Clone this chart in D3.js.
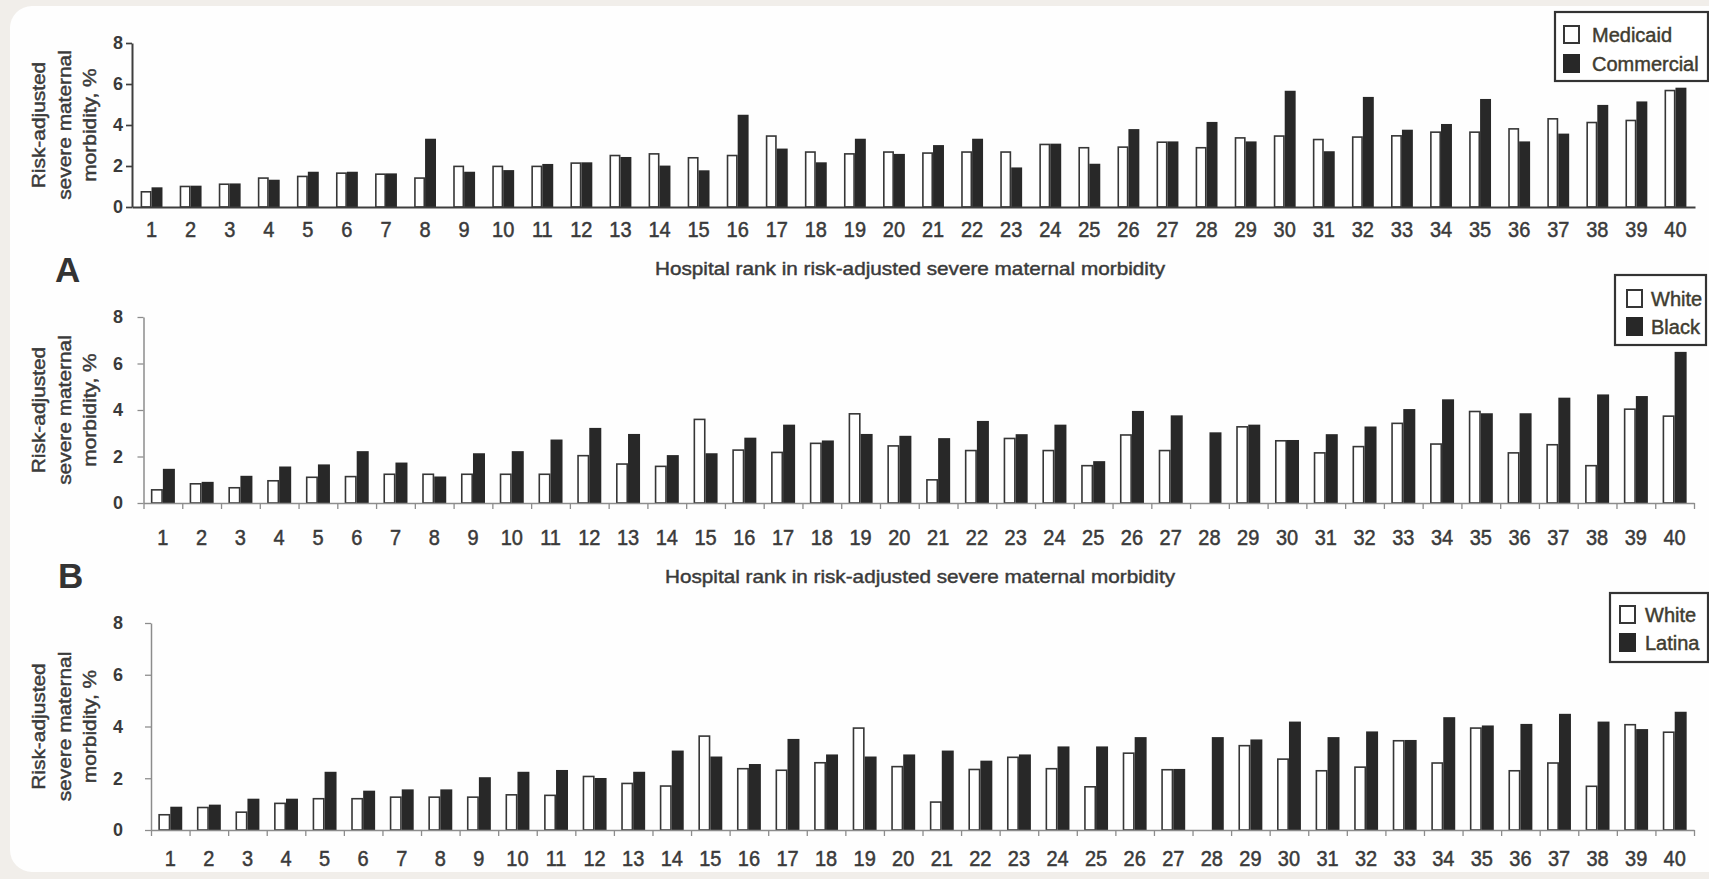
<!DOCTYPE html>
<html>
<head>
<meta charset="utf-8">
<script src="https://cdn.jsdelivr.net/npm/d3@7"></script>
<style>
  html, body { margin: 0; padding: 0; background: #f1eeea; }
  svg { display: block; }
  text { font-family: "Liberation Sans", Arial, Helvetica, sans-serif; }
  .ink { stroke: currentColor; stroke-width: 0.45px; paint-order: stroke; }
</style>
</head>
<body>
<svg id="chart" width="1709" height="879"></svg>
<script>
// Hospital ranks (x categories)
const ranks = [1,2,3,4,5,6,7,8,9,10,11,12,13,14,15,16,17,18,19,20,
               21,22,23,24,25,26,27,28,29,30,31,32,33,34,35,36,37,38,39,40];

// Panel A: payer
const medicaid   = [0.78,1.04,1.15,1.45,1.53,1.69,1.64,1.45,2.02,2.02,2.02,2.18,2.55,2.63,2.44,2.55,3.50,2.72,2.63,2.72,
                    2.67,2.72,2.72,3.09,2.93,2.96,3.20,2.93,3.41,3.50,3.33,3.45,3.51,3.69,3.69,3.85,4.34,4.16,4.26,5.72];
const commercial = [0.96,1.04,1.15,1.33,1.72,1.72,1.64,3.33,1.72,1.80,2.10,2.18,2.44,2.02,1.79,4.50,2.85,2.18,3.33,2.59,
                    3.02,3.33,1.93,3.09,2.11,3.80,3.20,4.15,3.20,5.67,2.72,5.37,3.77,4.05,5.27,3.20,3.58,4.98,5.15,5.82];

// Panel B: White vs Black
const whiteB = [0.60,0.86,0.69,0.99,1.14,1.17,1.27,1.27,1.27,1.27,1.27,2.07,1.71,1.61,3.63,2.31,2.21,2.60,3.87,2.49,
                1.03,2.29,2.81,2.29,1.64,2.96,2.29,null,3.31,2.71,2.19,2.46,3.46,2.57,3.97,2.19,2.54,1.64,4.07,3.77];
const blackB = [1.47,0.91,1.17,1.57,1.66,2.23,1.74,1.14,2.14,2.23,2.73,3.23,2.97,2.06,2.14,2.81,3.37,2.69,2.97,2.89,
                2.79,3.53,2.96,3.37,1.80,3.96,3.77,3.04,3.37,2.71,2.96,3.29,4.04,4.46,3.86,3.86,4.53,4.67,4.60,6.50];

// Panel C: White vs Latina
const whiteC  = [0.62,0.90,0.72,1.06,1.24,1.24,1.30,1.30,1.30,1.39,1.37,2.10,1.83,1.73,3.66,2.40,2.34,2.63,3.97,2.48,
                 1.11,2.37,2.84,2.40,1.70,3.00,2.36,null,3.29,2.77,2.32,2.46,3.48,2.62,3.97,2.32,2.62,1.72,4.10,3.81];
const latinaC = [0.90,0.98,1.21,1.21,2.25,1.52,1.57,1.57,2.04,2.25,2.32,2.01,2.25,3.07,2.84,2.55,3.52,2.92,2.84,2.92,
                 3.07,2.68,2.92,3.23,3.23,3.59,2.36,3.59,3.50,4.19,3.59,3.81,3.48,4.36,4.04,4.10,4.49,4.19,3.90,4.57];

const yTicks = [0, 2, 4, 6, 8];
const yLabelLines = ["Risk-adjusted", "severe maternal", "morbidity, %"];
const xTitle = "Hospital rank in risk-adjusted severe maternal morbidity";
const panelLetters = ["A", "B"];

const svg = d3.select("#chart");
const INK = "#363636";
const TEXT = "#3a3a3a";
const BAR_DARK = "#282828";

// card
svg.append("rect").attr("x", 0).attr("y", 0).attr("width", 1709).attr("height", 879).attr("fill", "#f1eeea");
svg.append("rect").attr("x", 10).attr("y", 6).attr("width", 1730).attr("height", 866)
   .attr("rx", 22).attr("fill", "#fefefe");

const panels = [
  { series: [{ name: "Medicaid", values: medicaid, light: true }, { name: "Commercial", values: commercial }],
    left: 132, right: 1695, base: 207, top: 43, pad: 0.44,
    axisColor: "#3e3e3e", axisWidth: 2, boundaryTicks: false, labelY: 229,
    title: { x: 910, y: 268 },
    legend: { x: 1555, y: 12, w: 153, h: 69, sx: 1563, sy: [25, 54], tx: 1592 } },
  { series: [{ name: "White", values: whiteB, light: true }, { name: "Black", values: blackB }],
    left: 143.5, right: 1694, base: 503, top: 317, pad: 0.38,
    axisColor: "#8c8c8c", axisWidth: 1.5, boundaryTicks: true, labelY: 537,
    title: { x: 920, y: 576 },
    legend: { x: 1615, y: 275, w: 91, h: 70, sx: 1626, sy: [289, 317], tx: 1651 } },
  { series: [{ name: "White", values: whiteC, light: true }, { name: "Latina", values: latinaC }],
    left: 151, right: 1694, base: 830, top: 623, pad: 0.38,
    axisColor: "#8c8c8c", axisWidth: 1.5, boundaryTicks: true, labelY: 858,
    title: null,
    legend: { x: 1610, y: 593, w: 98, h: 69, sx: 1619, sy: [605, 633], tx: 1645 } }
];

panels.forEach((p) => {
  const g = svg.append("g");

  const x = d3.scaleBand().domain(ranks).range([p.left, p.right])
              .paddingInner(p.pad).paddingOuter(p.pad / 2);
  const xs = d3.scaleBand().domain(p.series.map(s => s.name)).range([0, x.bandwidth()]);
  const y = d3.scaleLinear().domain([0, 8]).range([p.base, p.top]);

  // bars
  p.series.forEach(s => {
    const rows = ranks.map((r, i) => ({ r, v: s.values[i] })).filter(d => d.v != null);
    g.append("g").selectAll("rect").data(rows).join("rect")
      .attr("x", d => x(d.r) + xs(s.name) + (s.light ? 0.8 : 0))
      .attr("y", d => y(d.v) + (s.light ? 0.8 : 0))
      .attr("width", xs.bandwidth() - (s.light ? 1.6 : 0))
      .attr("height", d => p.base - y(d.v) - (s.light ? 0.8 : 0))
      .attr("fill", s.light ? "#ffffff" : BAR_DARK)
      .attr("stroke", s.light ? INK : "none")
      .attr("stroke-width", s.light ? 1.6 : 0);
  });

  // x axis with rank labels
  const xAxis = g.append("g").attr("transform", `translate(0,${p.base})`)
    .call(d3.axisBottom(x).tickSize(0).tickSizeOuter(0));
  xAxis.select(".domain").attr("stroke", p.axisColor).attr("stroke-width", p.axisWidth);
  xAxis.selectAll("text")
    .attr("class", "ink").attr("color", TEXT)
    .attr("y", p.labelY - p.base).attr("dy", "0.36em")
    .attr("font-size", 20).attr("fill", TEXT)
    .attr("transform", `translate(0,${p.labelY - p.base}) scale(1,1.08) translate(0,${-(p.labelY - p.base)})`);

  if (p.boundaryTicks) {
    const xb = d3.scaleLinear().domain([0, ranks.length]).range([p.left, p.right]);
    const bt = g.append("g").attr("transform", `translate(0,${p.base})`)
      .call(d3.axisBottom(xb).tickValues(d3.range(0, ranks.length + 1)).tickSize(6).tickFormat(""));
    bt.select(".domain").remove();
    bt.selectAll("line").attr("stroke", p.axisColor).attr("stroke-width", 1.3);
  }

  // y axis
  const yAxis = g.append("g").attr("transform", `translate(${p.left},0)`)
    .call(d3.axisLeft(y).tickValues(yTicks).tickSize(6).tickSizeOuter(0));
  yAxis.select(".domain").attr("stroke", p.axisColor).attr("stroke-width", p.axisWidth);
  yAxis.selectAll("line").attr("stroke", p.axisColor).attr("stroke-width", p.axisWidth * 0.85);
  yAxis.selectAll("text")
    .attr("x", 118 - p.left).attr("text-anchor", "middle")
    .attr("font-size", 18).attr("font-weight", "bold").attr("fill", TEXT);

  // y axis title, three rotated lines
  const cy = (p.top + p.base) / 2;
  [39, 65, 90].forEach((lx, li) => {
    g.append("text")
      .attr("class", "ink").attr("color", TEXT)
      .attr("transform", `translate(${lx},${cy}) scale(1,1.16) rotate(-90)`)
      .attr("text-anchor", "middle").attr("dy", "0.35em")
      .attr("font-size", 18).attr("fill", TEXT)
      .text(yLabelLines[li]);
  });

  // x axis title
  if (p.title) {
    g.append("text")
      .attr("class", "ink").attr("color", TEXT)
      .attr("x", p.title.x).attr("y", p.title.y).attr("dy", "0.35em")
      .attr("text-anchor", "middle").attr("font-size", 19).attr("fill", TEXT)
      .attr("textLength", 510).attr("lengthAdjust", "spacingAndGlyphs")
      .text(xTitle);
  }

  // legend
  const L = p.legend;
  const lg = g.append("g");
  lg.append("rect").attr("x", L.x).attr("y", L.y).attr("width", L.w).attr("height", L.h)
    .attr("fill", "#ffffff").attr("stroke", "#333333").attr("stroke-width", 2.2);
  p.series.forEach((s, si) => {
    lg.append("rect").attr("x", L.sx + (s.light ? 1 : 0)).attr("y", L.sy[si] + (s.light ? 1 : 0))
      .attr("width", s.light ? 15 : 17).attr("height", s.light ? 17 : 19)
      .attr("fill", s.light ? "#ffffff" : BAR_DARK)
      .attr("stroke", s.light ? INK : "none").attr("stroke-width", 2);
    lg.append("text").attr("class", "ink").attr("color", "#403c30")
      .attr("x", L.tx).attr("y", L.sy[si] + 9.5).attr("dy", "0.35em")
      .attr("font-size", 20).attr("fill", "#403c30").text(s.name);
  });
});

// panel letters
svg.append("text").attr("x", 55).attr("y", 282).attr("font-size", 35).attr("font-weight", "bold")
   .attr("fill", "#333").text(panelLetters[0]);
svg.append("text").attr("x", 58).attr("y", 588).attr("font-size", 35).attr("font-weight", "bold")
   .attr("fill", "#333").text(panelLetters[1]);
</script>
</body>
</html>
